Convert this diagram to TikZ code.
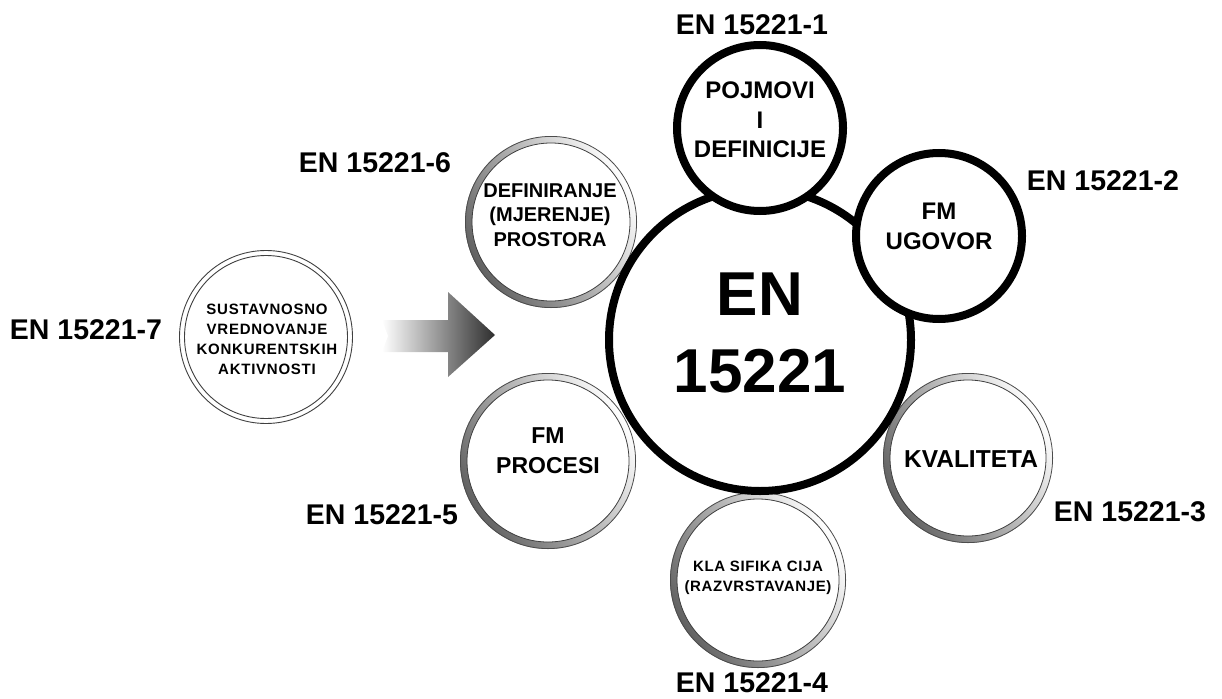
\documentclass[tikz,border=0pt]{standalone}
\usepackage{fontspec}
\setmainfont{Liberation Sans}
\newcommand\gring[2]{%
  \fill[white] (#1) circle[radius=#2pt];
  \shade[top color=white, bottom color=black!62, shading angle=-60, even odd rule]
    (#1) circle[radius=#2pt] circle[radius=#2pt-7pt];
  \draw[black!70, line width=0.8pt] (#1) circle[radius=#2pt-0.4pt];
  \draw[black!75, line width=0.8pt] (#1) circle[radius=#2pt-7pt];
}
\begin{document}
\begin{tikzpicture}[x=1pt,y=-1pt,
  lbl/.style={font=\fontsize{28.5}{30}\selectfont\bfseries, inner sep=0pt},
  blk/.style={circle, draw=black, line width=8pt, fill=white, inner sep=0pt},
  txt/.style={align=center, inner sep=0pt}]
\useasboundingbox (0,0) rectangle (1222,698);

% gradient rings
\coordinate (c6) at (551,222);
\coordinate (c5) at (548,461);
\coordinate (c3) at (968,458);
\coordinate (c4) at (758,580);
\gring{c6}{86}
\gring{c5}{88}
\gring{c3}{85}
\gring{c4}{88}

% double circle
\coordinate (c7) at (266,337);
\fill[white] (c7) circle[radius=87pt];
\draw[black!75, line width=0.9pt] (c7) circle[radius=86.5pt];
\draw[black!75, line width=0.9pt] (c7) circle[radius=81.5pt];

% black circles
\node[blk, minimum size=302pt] (big) at (760,340) {};
\node[blk, minimum size=166pt] (c1) at (760,128) {};
\node[blk, minimum size=166pt] (c2) at (939,236) {};

% arrow
\shade[left color=white, right color=black!82]
  (382,320) -- (448,320) -- (448,292) -- (495,335) -- (448,377) -- (448,352)
  -- (382,352) -- (388,336) -- cycle;

% texts
\node[txt, font=\fontsize{62}{77}\selectfont\bfseries] (bigtxt) at (760,333) {EN\\15221};
\node[txt, font=\fontsize{24}{29.5}\selectfont\bfseries] (t1) at (760,120) {POJMOVI\\I\\DEFINICIJE};
\node[txt, font=\fontsize{24}{30}\selectfont\bfseries] (t2) at (939,226) {FM\\UGOVOR};
\node[txt, font=\fontsize{24.5}{30}\selectfont\bfseries] (t3) at (971,459) {KVALITETA};
\node[txt, font=\fontsize{15}{20}\selectfont\bfseries\addfontfeatures{LetterSpace=4}] (t4) at (758,578) {KLA SIFIKA CIJA\\(RAZVRSTAVANJE)};
\node[txt, font=\fontsize{23}{30}\selectfont\bfseries] (t5) at (548,451) {FM\\PROCESI};
\node[txt, font=\fontsize{20}{24.5}\selectfont\bfseries] (t6) at (550,215) {DEFINIRANJE\\(MJERENJE)\\PROSTORA};
\node[txt, font=\fontsize{15}{20}\selectfont\bfseries\addfontfeatures{LetterSpace=5}] (t7) at (267,339) {SUSTAVNOSNO\\VREDNOVANJE\\KONKURENTSKIH\\AKTIVNOSTI};

% labels
\node[lbl] (l1) at (752,25) {EN 15221-1};
\node[lbl] (l2) at (1103,181) {EN 15221-2};
\node[lbl] (l3) at (1130,512) {EN 15221-3};
\node[lbl] (l4) at (752,683) {EN 15221-4};
\node[lbl] (l5) at (382,515) {EN 15221-5};
\node[lbl] (l6) at (375,163) {EN 15221-6};
\node[lbl] (l7) at (86,330) {EN 15221-7};
\end{tikzpicture}
\end{document}
